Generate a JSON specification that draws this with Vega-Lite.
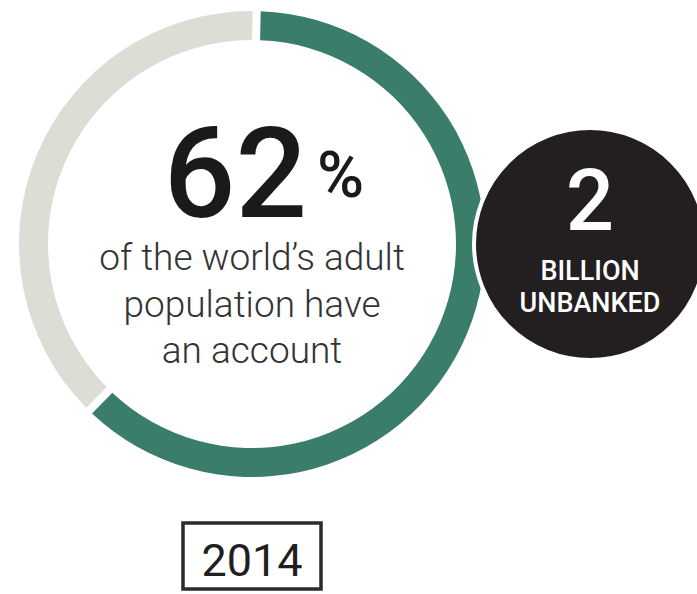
{
  "$schema": "https://vega.github.io/schema/vega-lite/v6.json",
  "background": "white",
  "padding": {"left": 19, "top": 11, "right": 0, "bottom": 0},
  "config": {"view": {"stroke": null}},
  "columns": 2,
  "bounds": "flush",
  "center": true,
  "spacing": {"row": 46, "column": 0},
  "concat": [
    {
      "width": 466,
      "height": 466,
      "data": {
        "values": [
          {"status": "Have an account", "share": 62, "rank": 1, "caption": "of the world’s adult\npopulation have\nan account"},
          {"status": "Do not have an account", "share": 38, "rank": 2}
        ]
      },
      "layer": [
        {
          "mark": {"type": "arc", "outerRadius": 233, "innerRadius": 204, "padAngle": 0.026},
          "encoding": {
            "theta": {"field": "share", "type": "quantitative", "stack": true, "scale": {"range": [0.02, 6.3032]}},
            "color": {
              "field": "status",
              "type": "nominal",
              "scale": {"domain": ["Have an account", "Do not have an account"], "range": ["#3a7d6a", "#dcddd4"]},
              "legend": null
            },
            "order": {"field": "rank", "type": "quantitative"}
          }
        },
        {
          "transform": [{"filter": "datum.rank == 1"}],
          "mark": {"type": "text", "align": "right", "baseline": "alphabetic", "dx": 55, "dy": -27, "fontSize": 126, "font": "Roboto", "fontWeight": 500, "color": "#1a1a1a"},
          "encoding": {"text": {"field": "share", "type": "quantitative"}}
        },
        {
          "transform": [{"filter": "datum.rank == 1"}],
          "mark": {"type": "text", "align": "left", "baseline": "alphabetic", "dx": 65, "dy": -47, "fontSize": 64, "font": "Roboto", "fontWeight": 500, "color": "#1a1a1a", "text": "%"},
          "encoding": {}
        },
        {
          "transform": [{"filter": "datum.rank == 1"}],
          "mark": {"type": "text", "align": "center", "baseline": "alphabetic", "dy": 26, "fontSize": 37, "lineHeight": 46.5, "lineBreak": "\n", "font": "Roboto", "fontWeight": 300, "color": "#333333"},
          "encoding": {"text": {"field": "caption", "type": "nominal"}}
        }
      ]
    },
    {
      "width": 210,
      "height": 462,
      "data": {"values": [{"count": 2, "unit": "BILLION\nUNBANKED"}]},
      "layer": [
        {
          "mark": {"type": "circle", "size": 53824, "color": "#231f20", "opacity": 1, "stroke": "white", "strokeWidth": 4},
          "encoding": {}
        },
        {
          "mark": {"type": "text", "baseline": "alphabetic", "dy": -14, "fontSize": 85, "font": "Roboto", "fontWeight": 500, "color": "white"},
          "encoding": {"text": {"field": "count", "type": "quantitative"}}
        },
        {
          "mark": {"type": "text", "baseline": "alphabetic", "dy": 36, "fontSize": 27, "lineHeight": 32, "lineBreak": "\n", "font": "Roboto", "fontWeight": 500, "color": "white"},
          "encoding": {"text": {"field": "unit", "type": "nominal"}}
        }
      ]
    },
    {
      "width": 138,
      "height": 66,
      "view": {"stroke": "#2b2b2b", "strokeWidth": 3.5},
      "data": {"values": [{"year": "2014"}]},
      "mark": {"type": "text", "baseline": "alphabetic", "dy": 20, "fontSize": 45, "font": "Roboto", "color": "#1f1f1f"},
      "encoding": {"text": {"field": "year", "type": "nominal"}}
    }
  ]
}
